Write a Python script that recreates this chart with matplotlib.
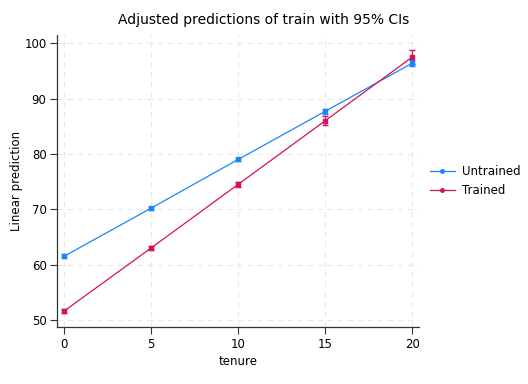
import numpy as np
import matplotlib
matplotlib.use("Agg")
import matplotlib.pyplot as plt
from matplotlib.lines import Line2D

tenure = [0, 5, 10, 15, 20]
untrained = [61.5, 70.2, 79.0, 87.7, 96.4]
untrained_ci = [0.35, 0.3, 0.3, 0.5, 0.6]
trained = [51.6, 63.0, 74.5, 86.0, 97.5]
trained_ci = [0.35, 0.3, 0.45, 0.8, 1.2]

blue = "#1a85ff"
red = "#d41159"

fig = plt.figure(figsize=(5.28, 3.84), dpi=100)
ax = fig.add_axes([0.108, 0.148, 0.686, 0.761])

ax.errorbar(tenure, untrained, yerr=untrained_ci, color=blue, marker="s", ms=3.5,
            lw=0.9, elinewidth=0.9, capsize=2)
ax.errorbar(tenure, trained, yerr=trained_ci, color=red, marker="s", ms=3.5,
            lw=0.9, elinewidth=0.9, capsize=2)

ax.set_xlim(-0.4, 20.4)
ax.set_ylim(48.7, 101.5)
ax.set_xticks([0, 5, 10, 15, 20])
ax.set_yticks([50, 60, 70, 80, 90, 100])
ax.grid(True, color="#e8e8e8", linestyle=(0, (5, 4)), lw=0.8)
ax.set_axisbelow(True)
for s in ["top", "right"]:
    ax.spines[s].set_visible(False)
for s in ["left", "bottom"]:
    ax.spines[s].set_color("#333333")
    ax.spines[s].set_linewidth(0.9)
ax.tick_params(labelsize=8.5, length=5, width=0.8, color="#333333", pad=2.5)

ax.set_xlabel("tenure", fontsize=8.5, labelpad=3)
ax.set_ylabel("Linear prediction", fontsize=8.5)
ax.yaxis.set_label_coords(-0.094, 0.5)
fig.suptitle("Adjusted predictions of train with 95% CIs", fontsize=10, x=0.5, y=0.965)

handles = [Line2D([], [], color=blue, marker="o", ms=2.5, lw=0.9),
           Line2D([], [], color=red, marker="o", ms=2.5, lw=0.9)]
ax.legend(handles, ["Untrained", "Trained"], loc="center left",
          bbox_to_anchor=(1.0, 0.5), frameon=False, fontsize=8.5,
          handlelength=2.1, handletextpad=0.6, labelspacing=0.55)

fig.savefig("out.png", dpi=100)
